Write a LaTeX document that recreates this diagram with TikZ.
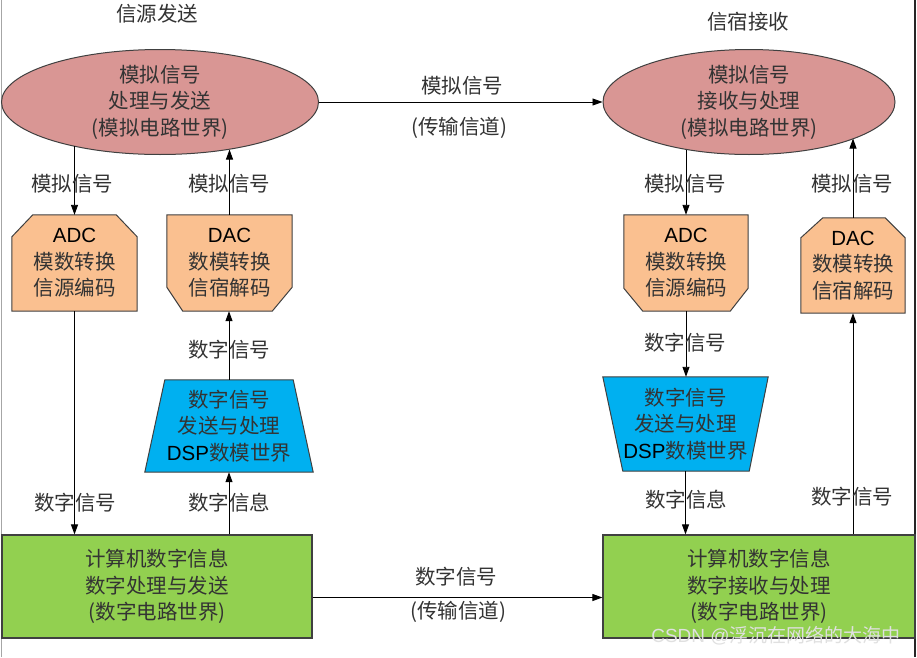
\documentclass[tikz,border=0pt]{standalone}
\usepackage{fontspec}
\setmainfont{Noto Sans CJK SC}
\newfontfamily\lat{Liberation Sans}
\usetikzlibrary{shapes.geometric,arrows.meta,calc}
\pgfdeclarelayer{background}
\pgfsetlayers{background,main}
\definecolor{rose}{HTML}{D99694}
\definecolor{peach}{HTML}{FAC090}
\definecolor{sky}{HTML}{00B0F0}
\definecolor{lime}{HTML}{92D050}
\definecolor{edge}{HTML}{404040}
\definecolor{txt}{HTML}{333333}
\tikzset{
  base/.style={align=center, text=txt, inner sep=0pt, font=\fontsize{20.5}{26.5}\selectfont},
  ell/.style={base, ellipse, draw=edge, line width=1pt, fill=rose},
  box/.style={base, rectangle, draw=edge, line width=1.2pt, fill=lime},
  area/.style={base, rectangle, draw=none},
  poly/.style={draw=edge, line width=1pt},
  lbl/.style={base},
  arr/.style={line width=0.9pt, -{Triangle[length=10pt,width=7pt]}},
}
\begin{document}
\begin{tikzpicture}[x=1pt,y=-1pt]
\useasboundingbox (0,0) rectangle (917,657);
\begin{pgfonlayer}{background}
\fill[white] (0,0) rectangle (917,657);
\end{pgfonlayer}
\draw[gray!70, line width=1pt] (1,0) -- (1,657);
\draw[black!85, line width=2pt] (915,0) -- (915,657);

\node[lbl] (t1) at (157,14) {信源发送};
\node[lbl] (t2) at (748,22) {信宿接收};

\node[ell, minimum width=317pt, minimum height=104pt] (eL) at (160,102) {模拟信号\\处理与发送\\(模拟电路世界)};
\node[ell, minimum width=292pt, minimum height=104pt] (eR) at (749,102) {模拟信号\\接收与处理\\(模拟电路世界)};

\node[area, minimum width=125pt, minimum height=96pt] (adcL) at (74.5,263) {{\lat\color{black}ADC}\\模数转换\\信源编码};
\node[area, minimum width=125pt, minimum height=96pt] (dacL) at (229.5,263) {{\lat\color{black}DAC}\\数模转换\\信宿解码};
\node[area, minimum width=124pt, minimum height=96pt] (adcR) at (686,263) {{\lat\color{black}ADC}\\模数转换\\信源编码};
\node[area, minimum width=104pt, minimum height=95pt] (dacR) at (853,265.5) {{\lat\color{black}DAC}\\数模转换\\信宿解码};

\node[area, minimum width=168pt, minimum height=92pt] (trL) at (229,426) {数字信号\\发送与处理\\{\lat\color{black}DSP}数模世界};
\node[area, minimum width=165pt, minimum height=94pt] (trR) at (685.5,424) {数字信号\\发送与处理\\{\lat\color{black}DSP}数模世界};

\node[box, minimum width=310pt, minimum height=103pt] (gL) at (157,586.5) {计算机数字信息\\数字处理与发送\\(数字电路世界)};
\node[box, minimum width=312pt, minimum height=103pt] (gR) at (759,586.5) {计算机数字信息\\数字接收与处理\\(数字电路世界)};

\begin{pgfonlayer}{background}
\filldraw[poly, fill=peach] (adcL.south west) -- ($(adcL.north west)+(0,22)$) -- ($(adcL.north west)+(21,0)$) -- ($(adcL.north east)+(-21,0)$) -- ($(adcL.north east)+(0,22)$) -- (adcL.south east) -- cycle;
\filldraw[poly, fill=peach] (dacL.north west) -- (dacL.north east) -- ($(dacL.south east)+(0,-24)$) -- ($(dacL.south east)+(-20,0)$) -- ($(dacL.south west)+(16,0)$) -- ($(dacL.south west)+(0,-24)$) -- cycle;
\filldraw[poly, fill=peach] (adcR.north west) -- (adcR.north east) -- ($(adcR.south east)+(0,-23)$) -- ($(adcR.south east)+(-18,0)$) -- ($(adcR.south west)+(19,0)$) -- ($(adcR.south west)+(0,-23)$) -- cycle;
\filldraw[poly, fill=peach] (dacR.south west) -- ($(dacR.north west)+(0,20)$) -- ($(dacR.north west)+(22,0)$) -- ($(dacR.north east)+(-20,0)$) -- ($(dacR.north east)+(0,20)$) -- (dacR.south east) -- cycle;
\filldraw[poly, fill=sky] (trL.south west) -- ($(trL.north west)+(20,0)$) -- ($(trL.north east)+(-20,0)$) -- (trL.south east) -- cycle;
\filldraw[poly, fill=sky] (trR.north west) -- (trR.north east) -- ($(trR.south east)+(-19,0)$) -- ($(trR.south west)+(20,0)$) -- cycle;
\end{pgfonlayer}

% connectors
\draw[arr] (eL.east) -- (eR.west);
\draw[arr] ([yshift=-11pt]gL.east) -- ([yshift=-11pt]gR.west);
\draw[arr] (adcL.north |- eL.207) -- (adcL.north);
\draw[arr] (adcL.south) -- (adcL.south |- gL.north);
\draw[arr] (dacL.north) -- (dacL.north |- eL.326);
\draw[arr] (trL.north) -- (trL.north |- dacL.south);
\draw[arr] (trL.south |- gL.north) -- (trL.south);
\draw[arr] (adcR.north |- eR.217) -- (adcR.north);
\draw[arr] (adcR.south) -- (adcR.south |- trR.north);
\draw[arr] (trR.south) -- (trR.south |- gR.north);
\draw[arr] (dacR.south |- gR.north) -- (dacR.south);
\draw[arr] (dacR.north) -- (dacR.north |- eR.341);

% labels
\node[lbl] (l1) at (462,86) {模拟信号};
\node[lbl] (l2) at (459,128) {(传输信道)};
\node[lbl] (l3) at (456,577) {数字信号};
\node[lbl] (l4) at (458,612) {(传输信道)};
\node[lbl] (l5) at (72,184) {模拟信号};
\node[lbl] (l6) at (229,184) {模拟信号};
\node[lbl] (l7) at (685,184) {模拟信号};
\node[lbl] (l8) at (852,184) {模拟信号};
\node[lbl] (l9) at (229,350) {数字信号};
\node[lbl] (l10) at (685,343) {数字信号};
\node[lbl] (l11) at (75,503) {数字信号};
\node[lbl] (l12) at (852,497) {数字信号};
\node[lbl] (l13) at (229,503) {数字信息};
\node[lbl] (l14) at (686,500) {数字信息};

\node[base, text=white!88!black, font=\fontsize{19}{20}\selectfont] (wm) at (776,636) {{\lat CSDN @}浮沉在网络的大海中};
\end{tikzpicture}
\end{document}
